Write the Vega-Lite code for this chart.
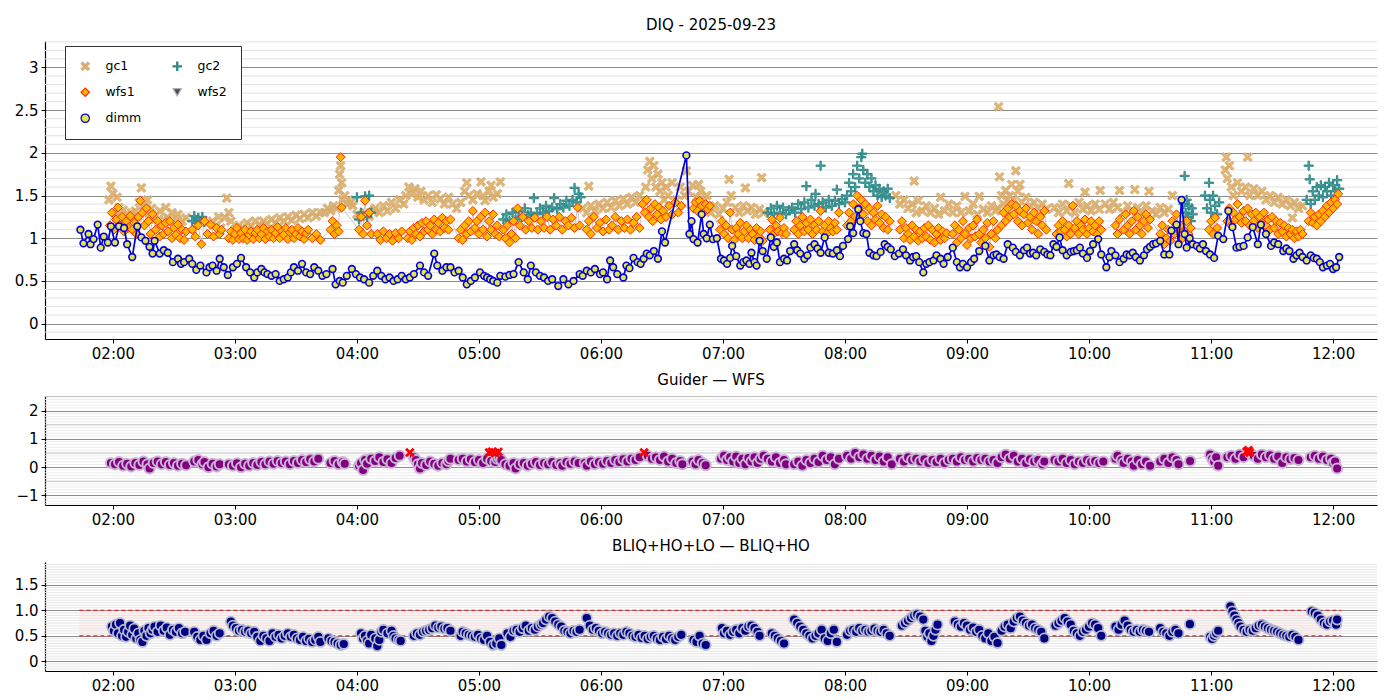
{
"$schema":"https://vega.github.io/schema/vega-lite/v6.json",
"background":"white",
"padding":{"left":9,"top":18,"right":10,"bottom":5},
"spacing":12,
"config":{
"font":"DejaVu Sans",
"view":{"stroke":null},
"title":{"font":"DejaVu Sans","fontSize":15,"fontWeight":"normal","color":"#000","offset":8,"anchor":"middle"},
"axis":{"labelFont":"DejaVu Sans","labelFontSize":15,"labelColor":"#000","domainColor":"#000","domainWidth":1.2,"tickColor":"#000","tickSize":4,"tickWidth":1,"labelPadding":3,"gridColor":"#8c8c8c","gridWidth":1},
"axisX":{"grid":false},
"axisY":{"grid":true,"minExtent":36,"maxExtent":36},
"legend":{"orient":"none","legendX":20,"legendY":5,"columns":2,"labelFont":"DejaVu Sans","labelFontSize":12.5,"labelColor":"#000","symbolSize":70,"symbolStrokeWidth":1.2,"padding":14,"rowPadding":12,"columnPadding":28,"labelOffset":14,"strokeColor":"#333333","fillColor":"#ffffff","cornerRadius":0}
},
"resolve":{"scale":{"shape":"independent","fill":"independent","stroke":"independent"}},
"datasets":{
"gtop":[{"v":-0.1},{"v":0.1},{"v":0.2},{"v":0.3},{"v":0.4},{"v":0.6},{"v":0.7},{"v":0.8},{"v":0.9},{"v":1.1},{"v":1.2},{"v":1.3},{"v":1.4},{"v":1.6},{"v":1.7},{"v":1.8},{"v":1.9},{"v":2.1},{"v":2.2},{"v":2.3},{"v":2.4},{"v":2.6},{"v":2.7},{"v":2.8},{"v":2.9},{"v":3.1},{"v":3.2},{"v":3.3}],
"gmid":[{"v":-1.3},{"v":-1.2},{"v":-1.1},{"v":-0.9},{"v":-0.8},{"v":-0.7},{"v":-0.6},{"v":-0.4},{"v":-0.3},{"v":-0.2},{"v":-0.1},{"v":0.1},{"v":0.2},{"v":0.3},{"v":0.4},{"v":0.6},{"v":0.7},{"v":0.8},{"v":0.9},{"v":1.1},{"v":1.2},{"v":1.3},{"v":1.4},{"v":1.6},{"v":1.7},{"v":1.8},{"v":1.9},{"v":2.1},{"v":2.2},{"v":2.3},{"v":2.4}],
"gmidh":[{"v":-0.5},{"v":0.5},{"v":1.5},{"v":2.5}],
"gbot":[{"v":-0.15},{"v":-0.1},{"v":-0.05},{"v":0.05},{"v":0.1},{"v":0.15},{"v":0.2},{"v":0.25},{"v":0.3},{"v":0.35},{"v":0.4},{"v":0.45},{"v":0.55},{"v":0.6},{"v":0.65},{"v":0.7},{"v":0.75},{"v":0.8},{"v":0.85},{"v":0.9},{"v":0.95},{"v":1.05},{"v":1.1},{"v":1.15},{"v":1.2},{"v":1.25},{"v":1.3},{"v":1.35},{"v":1.4},{"v":1.45},{"v":1.55},{"v":1.6},{"v":1.65},{"v":1.7},{"v":1.75},{"v":1.8},{"v":1.85},{"v":1.9}],
"thr":[{"t1":103.5,"t2":724,"v":0.5},{"t1":103.5,"t2":724,"v":1.0}],
"band":[{"t1":103.5,"t2":724,"v":0.5,"v2":1.0}],
"dimm":[{"t":104,"v":1.1},{"t":105.5,"v":0.94},{"t":108,"v":1.05},{"t":109,"v":0.93},{"t":110.5,"v":0.99},{"t":112.5,"v":1.16},{"t":114,"v":0.89},{"t":115.5,"v":1.02},{"t":117.5,"v":0.95},{"t":119,"v":1.14},{"t":121,"v":0.95},{"t":123,"v":1.14},{"t":125.5,"v":1.12},{"t":127,"v":0.93},{"t":129.5,"v":0.78},{"t":132,"v":1.14},{"t":134,"v":1.01},{"t":136,"v":0.97},{"t":138,"v":0.9},{"t":139.5,"v":0.82},{"t":140.5,"v":0.97},{"t":143,"v":0.82},{"t":145,"v":0.86},{"t":147,"v":0.83},{"t":149.5,"v":0.72},{"t":152,"v":0.76},{"t":153.5,"v":0.7},{"t":155,"v":0.72},{"t":157.5,"v":0.76},{"t":159,"v":0.7},{"t":161,"v":0.63},{"t":163,"v":0.68},{"t":166,"v":0.6},{"t":167.5,"v":0.66},{"t":169,"v":0.68},{"t":171,"v":0.62},{"t":172.5,"v":0.76},{"t":174.5,"v":0.66},{"t":176.5,"v":0.57},{"t":179,"v":0.66},{"t":181,"v":0.7},{"t":183,"v":0.77},{"t":185.5,"v":0.66},{"t":187.5,"v":0.6},{"t":189.5,"v":0.54},{"t":191,"v":0.6},{"t":193,"v":0.64},{"t":194.5,"v":0.6},{"t":196,"v":0.58},{"t":198,"v":0.56},{"t":200,"v":0.58},{"t":202,"v":0.5},{"t":204,"v":0.52},{"t":206,"v":0.54},{"t":207.5,"v":0.6},{"t":209,"v":0.66},{"t":211,"v":0.62},{"t":213,"v":0.7},{"t":215,"v":0.6},{"t":217,"v":0.58},{"t":219,"v":0.66},{"t":221,"v":0.62},{"t":223,"v":0.56},{"t":225,"v":0.58},{"t":228,"v":0.64},{"t":229.5,"v":0.46},{"t":231.5,"v":0.5},{"t":233,"v":0.48},{"t":235,"v":0.56},{"t":237.5,"v":0.64},{"t":239.5,"v":0.58},{"t":241.5,"v":0.54},{"t":243.5,"v":0.52},{"t":246,"v":0.48},{"t":248,"v":0.56},{"t":250,"v":0.62},{"t":252,"v":0.56},{"t":254,"v":0.52},{"t":256,"v":0.54},{"t":258,"v":0.5},{"t":260,"v":0.52},{"t":262,"v":0.56},{"t":264,"v":0.52},{"t":266,"v":0.54},{"t":268,"v":0.58},{"t":271,"v":0.68},{"t":273,"v":0.6},{"t":275,"v":0.56},{"t":278,"v":0.82},{"t":279.5,"v":0.68},{"t":282,"v":0.62},{"t":284,"v":0.66},{"t":286,"v":0.66},{"t":288,"v":0.6},{"t":290,"v":0.62},{"t":292,"v":0.54},{"t":294,"v":0.46},{"t":296,"v":0.5},{"t":298,"v":0.54},{"t":300.5,"v":0.6},{"t":302.5,"v":0.56},{"t":304,"v":0.54},{"t":305.5,"v":0.52},{"t":307,"v":0.5},{"t":309,"v":0.48},{"t":310.5,"v":0.56},{"t":313,"v":0.55},{"t":315,"v":0.57},{"t":317,"v":0.58},{"t":319.5,"v":0.72},{"t":322,"v":0.6},{"t":324,"v":0.52},{"t":325.5,"v":0.68},{"t":328,"v":0.6},{"t":330,"v":0.56},{"t":332,"v":0.54},{"t":334,"v":0.5},{"t":336,"v":0.52},{"t":339,"v":0.44},{"t":341.5,"v":0.52},{"t":344,"v":0.46},{"t":346.5,"v":0.5},{"t":349.5,"v":0.58},{"t":351,"v":0.56},{"t":353,"v":0.62},{"t":355,"v":0.6},{"t":357,"v":0.64},{"t":359.5,"v":0.58},{"t":361,"v":0.6},{"t":363,"v":0.52},{"t":364.5,"v":0.74},{"t":366,"v":0.66},{"t":368,"v":0.58},{"t":371,"v":0.54},{"t":372.5,"v":0.68},{"t":374,"v":0.65},{"t":376,"v":0.77},{"t":378,"v":0.72},{"t":379.5,"v":0.7},{"t":381,"v":0.76},{"t":382.5,"v":0.82},{"t":384,"v":0.8},{"t":386,"v":0.85},{"t":388,"v":0.76},{"t":390,"v":1.08},{"t":391.5,"v":0.95},{"t":402,"v":1.97},{"t":403.5,"v":1.05},{"t":404.5,"v":1.2},{"t":405.5,"v":0.99},{"t":407.5,"v":0.95},{"t":409.5,"v":1.28},{"t":410.5,"v":1.05},{"t":412,"v":1.0},{"t":413.5,"v":1.16},{"t":415,"v":0.99},{"t":417,"v":1.0},{"t":419,"v":0.76},{"t":420.5,"v":0.74},{"t":422,"v":0.7},{"t":423.5,"v":0.77},{"t":424.5,"v":0.91},{"t":426.5,"v":0.79},{"t":428.5,"v":0.68},{"t":430,"v":0.72},{"t":431.5,"v":0.74},{"t":433,"v":0.7},{"t":434,"v":0.83},{"t":435.5,"v":0.72},{"t":436.5,"v":0.68},{"t":438,"v":0.97},{"t":439.5,"v":0.85},{"t":441.5,"v":0.76},{"t":443.5,"v":1.01},{"t":445,"v":0.9},{"t":446.5,"v":0.95},{"t":448,"v":0.72},{"t":450,"v":0.76},{"t":451.5,"v":0.74},{"t":453,"v":0.85},{"t":455,"v":0.93},{"t":456.5,"v":0.86},{"t":458,"v":0.82},{"t":460,"v":0.76},{"t":461.5,"v":0.8},{"t":463,"v":0.89},{"t":465,"v":0.93},{"t":466.5,"v":0.88},{"t":468,"v":0.83},{"t":470,"v":1.01},{"t":472,"v":0.83},{"t":474,"v":0.82},{"t":476,"v":0.86},{"t":477.5,"v":0.79},{"t":479,"v":0.91},{"t":481.5,"v":0.99},{"t":482.5,"v":1.14},{"t":484,"v":1.06},{"t":486.5,"v":1.34},{"t":487.5,"v":1.2},{"t":489,"v":1.06},{"t":490.5,"v":1.05},{"t":492,"v":0.83},{"t":494,"v":0.8},{"t":495.5,"v":0.79},{"t":497.5,"v":0.84},{"t":499.5,"v":0.93},{"t":501,"v":0.9},{"t":502.5,"v":0.87},{"t":504.5,"v":0.79},{"t":506.5,"v":0.82},{"t":508.5,"v":0.87},{"t":510,"v":0.8},{"t":512,"v":0.74},{"t":513.5,"v":0.78},{"t":515,"v":0.79},{"t":516.5,"v":0.72},{"t":518.5,"v":0.6},{"t":520,"v":0.7},{"t":521.5,"v":0.72},{"t":523.5,"v":0.74},{"t":525,"v":0.8},{"t":527,"v":0.76},{"t":528.5,"v":0.7},{"t":530.5,"v":0.78},{"t":533,"v":0.89},{"t":535,"v":0.72},{"t":536.5,"v":0.66},{"t":538,"v":0.7},{"t":540,"v":0.66},{"t":542,"v":0.72},{"t":543.5,"v":0.76},{"t":546,"v":0.85},{"t":549,"v":0.91},{"t":551,"v":0.74},{"t":553,"v":0.8},{"t":554.5,"v":0.81},{"t":556,"v":0.78},{"t":558,"v":0.76},{"t":560,"v":0.93},{"t":562.5,"v":0.89},{"t":564,"v":0.84},{"t":566,"v":0.8},{"t":568,"v":0.86},{"t":569.5,"v":0.89},{"t":571,"v":0.82},{"t":572.5,"v":0.83},{"t":574,"v":0.8},{"t":576,"v":0.87},{"t":578,"v":0.84},{"t":579.5,"v":0.81},{"t":581,"v":0.8},{"t":582.5,"v":0.93},{"t":584,"v":0.9},{"t":585.5,"v":1.01},{"t":587,"v":0.86},{"t":589,"v":0.8},{"t":591,"v":0.84},{"t":592.5,"v":0.85},{"t":594,"v":0.86},{"t":595.5,"v":0.89},{"t":597,"v":0.82},{"t":599,"v":0.77},{"t":600.5,"v":0.85},{"t":602,"v":0.93},{"t":604.5,"v":0.99},{"t":606,"v":0.81},{"t":608.5,"v":0.66},{"t":610,"v":0.78},{"t":611,"v":0.85},{"t":613,"v":0.8},{"t":615,"v":0.72},{"t":617,"v":0.76},{"t":618.5,"v":0.81},{"t":620,"v":0.8},{"t":621.5,"v":0.83},{"t":623,"v":0.78},{"t":625,"v":0.74},{"t":627,"v":0.8},{"t":628.5,"v":0.87},{"t":630,"v":0.9},{"t":631.5,"v":0.93},{"t":633,"v":0.94},{"t":635,"v":0.97},{"t":637,"v":0.81},{"t":639.5,"v":0.81},{"t":640.5,"v":1.09},{"t":643,"v":1.16},{"t":644,"v":0.93},{"t":645.5,"v":1.45},{"t":647,"v":1.05},{"t":648,"v":0.89},{"t":649.5,"v":1.0},{"t":651,"v":0.93},{"t":653,"v":0.91},{"t":654.5,"v":0.88},{"t":656,"v":0.93},{"t":657.5,"v":0.85},{"t":659.5,"v":0.81},{"t":661.5,"v":0.77},{"t":663.5,"v":1.03},{"t":666,"v":0.99},{"t":668.5,"v":1.32},{"t":670.5,"v":1.13},{"t":672.5,"v":0.89},{"t":674,"v":0.9},{"t":676,"v":0.91},{"t":678,"v":1.01},{"t":680.5,"v":1.13},{"t":683,"v":0.93},{"t":684.5,"v":1.16},{"t":687,"v":1.05},{"t":689.5,"v":0.91},{"t":691,"v":0.95},{"t":693,"v":0.93},{"t":695.5,"v":0.85},{"t":697,"v":0.88},{"t":698.5,"v":0.85},{"t":700.5,"v":0.76},{"t":702,"v":0.8},{"t":703.5,"v":0.83},{"t":705,"v":0.78},{"t":707,"v":0.74},{"t":709,"v":0.8},{"t":710.5,"v":0.77},{"t":712,"v":0.76},{"t":713.5,"v":0.72},{"t":715,"v":0.66},{"t":717,"v":0.68},{"t":718.5,"v":0.7},{"t":720,"v":0.64},{"t":721.5,"v":0.66},{"t":723,"v":0.78}],
"gc1":[{"t":118,"v":1.45},{"t":119,"v":1.61},{"t":120,"v":1.52},{"t":121,"v":1.3},{"t":122,"v":1.48},{"t":123,"v":1.36},{"t":124,"v":1.25},{"t":125,"v":1.33},{"t":126,"v":1.22},{"t":127,"v":1.28},{"t":128,"v":1.2},{"t":129,"v":1.3},{"t":130,"v":1.24},{"t":131,"v":1.32},{"t":132,"v":1.25},{"t":133,"v":1.42},{"t":134,"v":1.59},{"t":135,"v":1.38},{"t":136,"v":1.3},{"t":137,"v":1.45},{"t":138,"v":1.22},{"t":139,"v":1.35},{"t":141,"v":1.26},{"t":143,"v":1.32},{"t":145,"v":1.22},{"t":146,"v":1.36},{"t":147,"v":1.24},{"t":149,"v":1.3},{"t":151,"v":1.22},{"t":152,"v":1.28},{"t":154,"v":1.2},{"t":156,"v":1.24},{"t":169,"v":1.2},{"t":171,"v":1.15},{"t":172,"v":1.25},{"t":173,"v":1.12},{"t":175,"v":1.24},{"t":176,"v":1.47},{"t":177,"v":1.3},{"t":178,"v":1.2},{"t":180,"v":1.1},{"t":182,"v":1.15},{"t":184,"v":1.12},{"t":186,"v":1.18},{"t":188,"v":1.14},{"t":190,"v":1.2},{"t":192,"v":1.16},{"t":194,"v":1.2},{"t":196,"v":1.17},{"t":198,"v":1.22},{"t":200,"v":1.18},{"t":202,"v":1.24},{"t":204,"v":1.2},{"t":206,"v":1.25},{"t":208,"v":1.21},{"t":210,"v":1.27},{"t":212,"v":1.23},{"t":214,"v":1.28},{"t":216,"v":1.24},{"t":218,"v":1.3},{"t":220,"v":1.26},{"t":222,"v":1.3},{"t":224,"v":1.3},{"t":225.5,"v":1.35},{"t":227,"v":1.32},{"t":228.5,"v":1.38},{"t":230,"v":1.35},{"t":231,"v":1.56},{"t":231.5,"v":1.75},{"t":232,"v":1.85},{"t":232.5,"v":1.65},{"t":233,"v":1.45},{"t":234,"v":1.5},{"t":235,"v":1.4},{"t":236,"v":1.45},{"t":237,"v":1.42},{"t":238,"v":1.38},{"t":240,"v":1.28},{"t":242,"v":1.25},{"t":244,"v":1.3},{"t":246,"v":1.26},{"t":248,"v":1.32},{"t":249,"v":1.35},{"t":251,"v":1.3},{"t":253,"v":1.38},{"t":255,"v":1.32},{"t":257,"v":1.42},{"t":259,"v":1.35},{"t":261,"v":1.45},{"t":263,"v":1.4},{"t":264,"v":1.5},{"t":265.5,"v":1.6},{"t":267,"v":1.52},{"t":268.5,"v":1.58},{"t":270,"v":1.48},{"t":271.5,"v":1.55},{"t":273,"v":1.45},{"t":275,"v":1.5},{"t":277,"v":1.42},{"t":279,"v":1.51},{"t":281,"v":1.46},{"t":283,"v":1.4},{"t":285,"v":1.48},{"t":287,"v":1.4},{"t":289,"v":1.35},{"t":291,"v":1.42},{"t":293,"v":1.55},{"t":294,"v":1.65},{"t":295,"v":1.5},{"t":297,"v":1.45},{"t":299,"v":1.52},{"t":301,"v":1.66},{"t":302,"v":1.5},{"t":303,"v":1.44},{"t":305,"v":1.55},{"t":306,"v":1.62},{"t":307,"v":1.48},{"t":309,"v":1.52},{"t":310.5,"v":1.66},{"t":351,"v":1.35},{"t":353,"v":1.3},{"t":354,"v":1.61},{"t":355,"v":1.38},{"t":357,"v":1.32},{"t":359,"v":1.4},{"t":361,"v":1.35},{"t":363,"v":1.42},{"t":365,"v":1.36},{"t":367,"v":1.44},{"t":369,"v":1.38},{"t":371,"v":1.46},{"t":373,"v":1.4},{"t":375,"v":1.48},{"t":377,"v":1.42},{"t":379,"v":1.5},{"t":381,"v":1.45},{"t":382,"v":1.6},{"t":383,"v":1.8},{"t":384,"v":1.9},{"t":385,"v":1.7},{"t":386,"v":1.85},{"t":387,"v":1.6},{"t":388,"v":1.75},{"t":389,"v":1.55},{"t":390,"v":1.65},{"t":391,"v":1.45},{"t":392,"v":1.6},{"t":393,"v":1.5},{"t":395,"v":1.65},{"t":397,"v":1.45},{"t":399,"v":1.6},{"t":401,"v":1.5},{"t":402,"v":1.79},{"t":403,"v":1.55},{"t":405,"v":1.62},{"t":407,"v":1.48},{"t":408,"v":1.63},{"t":409,"v":1.55},{"t":411,"v":1.45},{"t":412,"v":1.5},{"t":414,"v":1.3},{"t":416,"v":1.38},{"t":418,"v":1.28},{"t":420,"v":1.35},{"t":422,"v":1.42},{"t":423,"v":1.69},{"t":424,"v":1.5},{"t":426,"v":1.36},{"t":428,"v":1.3},{"t":430,"v":1.38},{"t":431,"v":1.59},{"t":432,"v":1.32},{"t":434,"v":1.36},{"t":436,"v":1.28},{"t":438,"v":1.34},{"t":439,"v":1.71},{"t":440,"v":1.3},{"t":505,"v":1.5},{"t":507,"v":1.4},{"t":509,"v":1.45},{"t":511,"v":1.35},{"t":513,"v":1.4},{"t":514,"v":1.67},{"t":515,"v":1.3},{"t":516,"v":1.44},{"t":518,"v":1.32},{"t":520,"v":1.38},{"t":522,"v":1.3},{"t":524,"v":1.35},{"t":526,"v":1.28},{"t":527,"v":1.48},{"t":529,"v":1.32},{"t":531,"v":1.4},{"t":533,"v":1.3},{"t":535,"v":1.38},{"t":537,"v":1.3},{"t":539,"v":1.49},{"t":541,"v":1.32},{"t":543,"v":1.4},{"t":545,"v":1.28},{"t":546,"v":1.49},{"t":548,"v":1.34},{"t":550,"v":1.3},{"t":552,"v":1.38},{"t":554,"v":1.32},{"t":555,"v":1.35},{"t":555.5,"v":2.54},{"t":556,"v":1.72},{"t":557,"v":1.5},{"t":558,"v":1.4},{"t":559,"v":1.56},{"t":560,"v":1.45},{"t":561,"v":1.5},{"t":562,"v":1.63},{"t":563,"v":1.45},{"t":564,"v":1.79},{"t":565,"v":1.55},{"t":566,"v":1.63},{"t":567,"v":1.42},{"t":569,"v":1.48},{"t":571,"v":1.38},{"t":573,"v":1.42},{"t":575,"v":1.35},{"t":577,"v":1.4},{"t":579,"v":1.34},{"t":583,"v":1.36},{"t":585,"v":1.3},{"t":587,"v":1.4},{"t":589,"v":1.32},{"t":590,"v":1.64},{"t":591,"v":1.38},{"t":593,"v":1.3},{"t":595,"v":1.42},{"t":597,"v":1.34},{"t":598,"v":1.54},{"t":599,"v":1.38},{"t":601,"v":1.32},{"t":603,"v":1.4},{"t":605,"v":1.34},{"t":605.5,"v":1.56},{"t":608,"v":1.4},{"t":610,"v":1.34},{"t":612,"v":1.42},{"t":614,"v":1.36},{"t":615,"v":1.56},{"t":617,"v":1.3},{"t":619,"v":1.38},{"t":621,"v":1.32},{"t":622.5,"v":1.57},{"t":624,"v":1.36},{"t":626,"v":1.3},{"t":628,"v":1.38},{"t":629.5,"v":1.55},{"t":631,"v":1.32},{"t":633,"v":1.28},{"t":635,"v":1.36},{"t":637,"v":1.3},{"t":639,"v":1.34},{"t":641,"v":1.5},{"t":667,"v":1.8},{"t":667.5,"v":1.95},{"t":668,"v":1.7},{"t":669,"v":1.85},{"t":670,"v":1.6},{"t":671,"v":1.5},{"t":673,"v":1.65},{"t":675,"v":1.55},{"t":677,"v":1.6},{"t":678,"v":1.95},{"t":679,"v":1.5},{"t":681,"v":1.58},{"t":683,"v":1.5},{"t":685,"v":1.55},{"t":687,"v":1.45},{"t":689,"v":1.5},{"t":691,"v":1.42},{"t":693,"v":1.48},{"t":695,"v":1.4},{"t":697,"v":1.45},{"t":699,"v":1.38},{"t":700,"v":1.24},{"t":701,"v":1.42},{"t":703,"v":1.35},{"t":705,"v":1.38}],
"gc2":[{"t":159,"v":1.2},{"t":160,"v":1.26},{"t":161,"v":1.18},{"t":162,"v":1.24},{"t":163,"v":1.2},{"t":164,"v":1.25},{"t":165,"v":1.19},{"t":240,"v":1.48},{"t":241,"v":1.22},{"t":242,"v":1.3},{"t":244,"v":1.49},{"t":245,"v":1.25},{"t":246,"v":1.5},{"t":247,"v":1.3},{"t":312,"v":1.22},{"t":313.5,"v":1.28},{"t":315,"v":1.2},{"t":316.5,"v":1.3},{"t":318,"v":1.22},{"t":319.5,"v":1.32},{"t":321,"v":1.25},{"t":322.5,"v":1.35},{"t":324,"v":1.27},{"t":325.5,"v":1.3},{"t":327,"v":1.47},{"t":328.5,"v":1.28},{"t":330,"v":1.35},{"t":331.5,"v":1.3},{"t":333,"v":1.38},{"t":334.5,"v":1.32},{"t":336,"v":1.36},{"t":337,"v":1.47},{"t":338.5,"v":1.34},{"t":340,"v":1.4},{"t":341.5,"v":1.36},{"t":343,"v":1.44},{"t":344.5,"v":1.38},{"t":346,"v":1.45},{"t":347,"v":1.59},{"t":348,"v":1.42},{"t":349,"v":1.52},{"t":350,"v":1.48},{"t":442,"v":1.3},{"t":443.5,"v":1.35},{"t":445,"v":1.28},{"t":446.5,"v":1.38},{"t":448,"v":1.3},{"t":449.5,"v":1.36},{"t":451,"v":1.28},{"t":452.5,"v":1.33},{"t":454,"v":1.36},{"t":455.5,"v":1.3},{"t":457,"v":1.4},{"t":458.5,"v":1.34},{"t":460,"v":1.42},{"t":461,"v":1.61},{"t":462,"v":1.36},{"t":463.5,"v":1.45},{"t":465,"v":1.38},{"t":465.5,"v":1.52},{"t":467,"v":1.4},{"t":468,"v":1.85},{"t":469,"v":1.42},{"t":470.5,"v":1.36},{"t":472,"v":1.45},{"t":473.5,"v":1.38},{"t":475,"v":1.44},{"t":476,"v":1.57},{"t":477,"v":1.4},{"t":478.5,"v":1.46},{"t":480,"v":1.42},{"t":481,"v":1.5},{"t":482,"v":1.65},{"t":483,"v":1.55},{"t":484,"v":1.75},{"t":485,"v":1.6},{"t":486,"v":1.85},{"t":487,"v":1.7},{"t":488,"v":1.95},{"t":488.5,"v":1.99},{"t":489,"v":1.8},{"t":490,"v":1.65},{"t":491,"v":1.75},{"t":492,"v":1.6},{"t":493,"v":1.7},{"t":494,"v":1.55},{"t":495,"v":1.62},{"t":496,"v":1.5},{"t":497,"v":1.58},{"t":498,"v":1.48},{"t":499,"v":1.55},{"t":500,"v":1.5},{"t":501,"v":1.58},{"t":502,"v":1.47},{"t":646.5,"v":1.4},{"t":647,"v":1.73},{"t":647.5,"v":1.3},{"t":648,"v":1.45},{"t":648.5,"v":1.25},{"t":649,"v":1.38},{"t":650,"v":1.2},{"t":650.5,"v":1.35},{"t":651,"v":1.28},{"t":657,"v":1.5},{"t":658,"v":1.35},{"t":659,"v":1.65},{"t":659.5,"v":1.45},{"t":660,"v":1.3},{"t":661,"v":1.5},{"t":662,"v":1.38},{"t":663,"v":1.28},{"t":664,"v":1.42},{"t":707,"v":1.45},{"t":708,"v":1.85},{"t":708.5,"v":1.69},{"t":709,"v":1.4},{"t":710,"v":1.55},{"t":711,"v":1.45},{"t":712,"v":1.6},{"t":713,"v":1.5},{"t":714,"v":1.62},{"t":715,"v":1.48},{"t":716,"v":1.6},{"t":717,"v":1.55},{"t":718,"v":1.65},{"t":719,"v":1.5},{"t":720,"v":1.62},{"t":721,"v":1.55},{"t":722,"v":1.68},{"t":723,"v":1.58}],
"wfs1":[{"t":118.5,"v":1.15},{"t":119.5,"v":1.3},{"t":120.5,"v":1.1},{"t":121.5,"v":1.22},{"t":122.5,"v":1.36},{"t":123.5,"v":1.15},{"t":124.5,"v":1.25},{"t":125.5,"v":1.08},{"t":126.5,"v":1.2},{"t":127.5,"v":1.12},{"t":128.5,"v":1.26},{"t":129.5,"v":1.1},{"t":130.5,"v":1.18},{"t":131.5,"v":1.05},{"t":132.5,"v":1.25},{"t":133.5,"v":1.44},{"t":134.5,"v":1.3},{"t":135.5,"v":1.15},{"t":136.5,"v":1.35},{"t":137.5,"v":1.2},{"t":138.5,"v":1.05},{"t":139.5,"v":1.28},{"t":141,"v":1.1},{"t":142,"v":1.2},{"t":143,"v":1.02},{"t":144,"v":1.15},{"t":145,"v":1.05},{"t":146,"v":1.18},{"t":147,"v":1.08},{"t":148,"v":1.2},{"t":149,"v":1.0},{"t":150,"v":1.12},{"t":151,"v":1.04},{"t":152,"v":1.16},{"t":153,"v":1.0},{"t":154,"v":1.1},{"t":155,"v":0.98},{"t":156,"v":1.08},{"t":159,"v":1.1},{"t":160.5,"v":1.02},{"t":162,"v":1.15},{"t":163.5,"v":0.93},{"t":165,"v":1.2},{"t":166.5,"v":1.05},{"t":168,"v":1.16},{"t":169.5,"v":1.02},{"t":171,"v":1.12},{"t":172.5,"v":1.05},{"t":173.4,"v":1.1},{"t":177,"v":1.0},{"t":178,"v":1.08},{"t":179,"v":0.98},{"t":180,"v":1.05},{"t":181,"v":1.12},{"t":182,"v":0.99},{"t":183,"v":1.06},{"t":184,"v":1.0},{"t":185,"v":1.1},{"t":186,"v":0.98},{"t":187,"v":1.04},{"t":188,"v":1.08},{"t":189,"v":0.99},{"t":190,"v":1.06},{"t":191,"v":1.1},{"t":192,"v":1.0},{"t":193,"v":1.05},{"t":194,"v":1.12},{"t":195,"v":0.99},{"t":196,"v":1.08},{"t":197,"v":1.02},{"t":198,"v":1.1},{"t":199,"v":1.0},{"t":200,"v":1.06},{"t":201,"v":1.13},{"t":202,"v":1.0},{"t":203,"v":1.08},{"t":204,"v":1.04},{"t":205,"v":1.12},{"t":206,"v":0.99},{"t":207,"v":1.07},{"t":208,"v":1.1},{"t":209,"v":1.0},{"t":210,"v":1.05},{"t":211,"v":1.12},{"t":212,"v":1.02},{"t":213,"v":1.08},{"t":214,"v":0.99},{"t":215,"v":1.06},{"t":216,"v":1.1},{"t":218,"v":1.0},{"t":220,"v":1.05},{"t":222,"v":0.98},{"t":227,"v":1.1},{"t":228,"v":1.2},{"t":229,"v":1.05},{"t":230,"v":1.15},{"t":231,"v":1.08},{"t":232,"v":1.95},{"t":232.5,"v":1.36},{"t":241,"v":1.1},{"t":242,"v":1.25},{"t":243,"v":1.05},{"t":244,"v":1.44},{"t":245,"v":1.15},{"t":246,"v":1.3},{"t":247,"v":1.05},{"t":250,"v":1.05},{"t":251.5,"v":0.98},{"t":253,"v":1.08},{"t":254.5,"v":1.0},{"t":256,"v":1.05},{"t":257.5,"v":0.97},{"t":259,"v":1.06},{"t":260.5,"v":1.0},{"t":262,"v":1.08},{"t":265,"v":1.0},{"t":266,"v":1.08},{"t":267,"v":0.98},{"t":268,"v":1.12},{"t":269,"v":1.05},{"t":270,"v":1.15},{"t":271,"v":1.02},{"t":272,"v":1.18},{"t":273,"v":1.08},{"t":274,"v":1.2},{"t":275,"v":1.1},{"t":276,"v":1.15},{"t":277,"v":1.05},{"t":278,"v":1.22},{"t":279,"v":1.1},{"t":280,"v":1.18},{"t":281,"v":1.08},{"t":282,"v":1.24},{"t":283,"v":1.12},{"t":284,"v":1.2},{"t":285,"v":1.1},{"t":286,"v":1.22},{"t":290,"v":1.0},{"t":291,"v":1.1},{"t":292,"v":0.98},{"t":293,"v":1.15},{"t":294,"v":1.05},{"t":295,"v":1.2},{"t":296,"v":1.08},{"t":297,"v":1.32},{"t":298,"v":1.12},{"t":299,"v":1.2},{"t":300,"v":1.05},{"t":301,"v":1.25},{"t":302,"v":1.1},{"t":303,"v":1.3},{"t":304,"v":1.02},{"t":305,"v":1.2},{"t":306,"v":1.1},{"t":307,"v":1.28},{"t":308,"v":1.05},{"t":309,"v":1.15},{"t":310,"v":1.02},{"t":312,"v":1.1},{"t":313,"v":1.0},{"t":314,"v":1.15},{"t":315,"v":0.95},{"t":316,"v":1.05},{"t":317,"v":1.2},{"t":318,"v":1.0},{"t":319,"v":1.35},{"t":320,"v":1.15},{"t":321.5,"v":1.25},{"t":323,"v":1.1},{"t":324.5,"v":1.2},{"t":326,"v":1.12},{"t":327.5,"v":1.24},{"t":329,"v":1.1},{"t":330.5,"v":1.2},{"t":332,"v":1.12},{"t":333.5,"v":1.25},{"t":335,"v":1.1},{"t":336.5,"v":1.22},{"t":338,"v":1.15},{"t":339.5,"v":1.25},{"t":341,"v":1.1},{"t":342.5,"v":1.2},{"t":344,"v":1.15},{"t":345.5,"v":1.24},{"t":347,"v":1.12},{"t":348.5,"v":1.36},{"t":349.5,"v":1.15},{"t":353,"v":1.1},{"t":354,"v":1.2},{"t":355,"v":1.05},{"t":356.5,"v":1.25},{"t":358,"v":1.12},{"t":359.5,"v":1.18},{"t":361,"v":1.08},{"t":362.5,"v":1.22},{"t":364,"v":1.1},{"t":365.5,"v":1.15},{"t":367,"v":1.25},{"t":368.5,"v":1.1},{"t":370,"v":1.2},{"t":371.5,"v":1.12},{"t":373,"v":1.22},{"t":374.5,"v":1.1},{"t":376,"v":1.18},{"t":377.5,"v":1.25},{"t":379,"v":1.12},{"t":380.5,"v":1.4},{"t":381.5,"v":1.3},{"t":382.5,"v":1.45},{"t":383.5,"v":1.25},{"t":384.5,"v":1.35},{"t":385.5,"v":1.2},{"t":386.5,"v":1.4},{"t":387.5,"v":1.28},{"t":388.5,"v":1.36},{"t":389.5,"v":1.22},{"t":390.5,"v":1.32},{"t":392,"v":1.25},{"t":393.5,"v":1.38},{"t":395,"v":1.28},{"t":396.5,"v":1.42},{"t":398,"v":1.3},{"t":399.5,"v":1.38},{"t":405.5,"v":1.35},{"t":406.5,"v":1.42},{"t":407.5,"v":1.32},{"t":408.5,"v":1.44},{"t":409.5,"v":1.38},{"t":410.5,"v":1.3},{"t":411.5,"v":1.4},{"t":412.5,"v":1.34},{"t":413.5,"v":1.38},{"t":418.5,"v":1.1},{"t":419.5,"v":1.2},{"t":420.5,"v":1.05},{"t":421.5,"v":1.15},{"t":422.5,"v":1.0},{"t":423.5,"v":1.3},{"t":424.5,"v":1.1},{"t":425.5,"v":0.98},{"t":426.5,"v":1.12},{"t":427.5,"v":1.05},{"t":428.5,"v":1.18},{"t":429.5,"v":1.0},{"t":430.5,"v":1.08},{"t":431.5,"v":1.15},{"t":432.5,"v":1.0},{"t":433.5,"v":1.1},{"t":434.5,"v":1.05},{"t":435.5,"v":0.98},{"t":436.5,"v":1.12},{"t":437.5,"v":1.02},{"t":438.5,"v":1.08},{"t":439.5,"v":0.97},{"t":443,"v":1.1},{"t":444,"v":1.22},{"t":445,"v":1.05},{"t":446,"v":1.15},{"t":447,"v":1.08},{"t":448,"v":1.24},{"t":449,"v":1.06},{"t":450,"v":1.12},{"t":451,"v":1.05},{"t":455,"v":1.1},{"t":456,"v":1.2},{"t":457,"v":1.05},{"t":458,"v":1.15},{"t":459,"v":1.25},{"t":460,"v":1.08},{"t":461,"v":1.18},{"t":462,"v":1.1},{"t":463,"v":1.22},{"t":464,"v":1.05},{"t":465,"v":1.15},{"t":466,"v":1.1},{"t":467,"v":1.2},{"t":468,"v":1.32},{"t":469,"v":1.08},{"t":470,"v":1.15},{"t":471,"v":1.05},{"t":472,"v":1.2},{"t":473,"v":1.12},{"t":474,"v":1.08},{"t":475,"v":1.18},{"t":476,"v":1.1},{"t":477,"v":1.3},{"t":481,"v":1.15},{"t":482,"v":1.3},{"t":483,"v":1.2},{"t":484,"v":1.4},{"t":485,"v":1.25},{"t":486,"v":1.5},{"t":487,"v":1.35},{"t":488,"v":1.45},{"t":489,"v":1.28},{"t":490,"v":1.4},{"t":491,"v":1.2},{"t":492,"v":1.35},{"t":493,"v":1.15},{"t":494,"v":1.3},{"t":495,"v":1.22},{"t":496,"v":1.38},{"t":497,"v":1.18},{"t":498,"v":1.28},{"t":499,"v":1.12},{"t":500,"v":1.25},{"t":501,"v":1.1},{"t":502,"v":1.2},{"t":507,"v":1.1},{"t":508,"v":1.2},{"t":509,"v":1.0},{"t":510,"v":1.12},{"t":511,"v":1.05},{"t":512,"v":0.98},{"t":513,"v":1.15},{"t":514,"v":1.02},{"t":515,"v":1.1},{"t":516,"v":0.97},{"t":517,"v":1.08},{"t":518,"v":1.0},{"t":519,"v":1.12},{"t":520,"v":1.02},{"t":521,"v":1.15},{"t":522,"v":0.98},{"t":523,"v":1.1},{"t":524,"v":0.95},{"t":525,"v":1.05},{"t":526,"v":1.12},{"t":527,"v":0.98},{"t":528,"v":1.08},{"t":529,"v":1.0},{"t":530,"v":1.06},{"t":533,"v":1.05},{"t":534,"v":1.15},{"t":535,"v":0.95},{"t":536,"v":1.1},{"t":537,"v":1.0},{"t":538,"v":1.2},{"t":539,"v":1.05},{"t":540,"v":0.92},{"t":541,"v":1.12},{"t":542,"v":1.0},{"t":543,"v":1.15},{"t":544,"v":1.02},{"t":545,"v":1.22},{"t":546,"v":1.05},{"t":547,"v":0.95},{"t":548,"v":1.1},{"t":549,"v":1.0},{"t":550,"v":1.18},{"t":551,"v":0.9},{"t":552,"v":1.05},{"t":553,"v":1.2},{"t":554,"v":1.0},{"t":555,"v":1.1},{"t":557,"v":1.15},{"t":558,"v":1.3},{"t":559,"v":1.2},{"t":560,"v":1.35},{"t":561,"v":1.25},{"t":562,"v":1.4},{"t":563,"v":1.28},{"t":564,"v":1.38},{"t":565,"v":1.2},{"t":566,"v":1.32},{"t":567,"v":1.15},{"t":568,"v":1.28},{"t":569,"v":1.35},{"t":570,"v":1.18},{"t":571,"v":1.25},{"t":572,"v":1.1},{"t":573,"v":1.3},{"t":574,"v":1.2},{"t":575,"v":1.05},{"t":576,"v":1.25},{"t":577,"v":1.15},{"t":578,"v":1.32},{"t":579,"v":1.1},{"t":584,"v":1.05},{"t":585,"v":1.15},{"t":586,"v":1.08},{"t":587,"v":1.2},{"t":588,"v":1.1},{"t":589,"v":1.02},{"t":590,"v":1.15},{"t":591,"v":1.05},{"t":592,"v":1.38},{"t":593,"v":1.12},{"t":594,"v":1.2},{"t":595,"v":1.05},{"t":596,"v":1.15},{"t":597,"v":1.1},{"t":598,"v":1.22},{"t":599,"v":1.05},{"t":600,"v":1.12},{"t":601,"v":1.2},{"t":602,"v":1.08},{"t":603,"v":1.15},{"t":604,"v":1.05},{"t":605,"v":1.2},{"t":606,"v":1.1},{"t":613,"v":1.15},{"t":614,"v":1.05},{"t":615,"v":1.22},{"t":617,"v":1.1},{"t":618,"v":1.28},{"t":619,"v":1.15},{"t":620,"v":1.05},{"t":621,"v":1.2},{"t":622,"v":1.32},{"t":623,"v":1.1},{"t":624,"v":1.25},{"t":625,"v":1.15},{"t":626,"v":1.05},{"t":627,"v":1.2},{"t":628,"v":1.28},{"t":629,"v":1.12},{"t":630,"v":1.22},{"t":635,"v":1.05},{"t":636,"v":1.15},{"t":637,"v":0.93},{"t":638,"v":1.0},{"t":639,"v":1.1},{"t":640,"v":0.97},{"t":641,"v":1.2},{"t":642,"v":1.05},{"t":643,"v":1.28},{"t":644,"v":1.1},{"t":645,"v":1.15},{"t":646,"v":1.0},{"t":647,"v":1.08},{"t":648,"v":1.2},{"t":649,"v":1.05},{"t":650,"v":1.12},{"t":659,"v":1.1},{"t":660,"v":1.2},{"t":661,"v":1.05},{"t":662,"v":1.24},{"t":663,"v":1.12},{"t":668,"v":1.2},{"t":669,"v":1.35},{"t":670,"v":1.15},{"t":671,"v":1.3},{"t":672,"v":1.22},{"t":673,"v":1.4},{"t":674,"v":1.25},{"t":675,"v":1.18},{"t":676,"v":1.32},{"t":677,"v":1.2},{"t":678,"v":1.35},{"t":679,"v":1.15},{"t":680,"v":1.28},{"t":681,"v":1.2},{"t":682,"v":1.3},{"t":683,"v":1.12},{"t":684,"v":1.25},{"t":685,"v":1.18},{"t":686,"v":1.3},{"t":687,"v":1.15},{"t":688,"v":1.22},{"t":689,"v":1.1},{"t":690,"v":1.25},{"t":691,"v":1.12},{"t":692,"v":1.2},{"t":693,"v":1.05},{"t":694,"v":1.18},{"t":695,"v":1.08},{"t":696,"v":1.15},{"t":697,"v":1.02},{"t":698,"v":1.12},{"t":699,"v":1.05},{"t":700,"v":1.1},{"t":701,"v":1.0},{"t":702,"v":1.08},{"t":703,"v":1.02},{"t":704,"v":1.1},{"t":705,"v":1.05},{"t":708,"v":1.2},{"t":709,"v":1.3},{"t":710,"v":1.18},{"t":711,"v":1.25},{"t":712,"v":1.15},{"t":713,"v":1.28},{"t":714,"v":1.2},{"t":715,"v":1.32},{"t":716,"v":1.25},{"t":717,"v":1.38},{"t":718,"v":1.3},{"t":719,"v":1.42},{"t":720,"v":1.35},{"t":721,"v":1.45},{"t":722,"v":1.4},{"t":722.5,"v":1.52}],
"mid":[{"t":119,"v":0.15},{"t":121,"v":0.1},{"t":123,"v":0.18},{"t":125,"v":0.05},{"t":127,"v":0.12},{"t":129,"v":0.02},{"t":131,"v":0.15},{"t":133,"v":0.08},{"t":135,"v":0.2},{"t":137,"v":0.1},{"t":138,"v":-0.05},{"t":140,"v":0.15},{"t":142,"v":0.2},{"t":144,"v":0.1},{"t":146,"v":0.18},{"t":148,"v":0.08},{"t":150,"v":0.15},{"t":152,"v":0.05},{"t":154,"v":0.12},{"t":156,"v":0.07},{"t":160,"v":0.2},{"t":162,"v":0.25},{"t":164,"v":0.1},{"t":165,"v":0.18},{"t":167,"v":0.0},{"t":169,"v":0.12},{"t":171,"v":0.02},{"t":172.5,"v":0.1},{"t":177,"v":0.1},{"t":179,"v":0.05},{"t":181,"v":0.14},{"t":183,"v":0.0},{"t":185,"v":0.12},{"t":187,"v":0.05},{"t":189,"v":0.15},{"t":191,"v":0.08},{"t":193,"v":0.18},{"t":195,"v":0.1},{"t":197,"v":0.2},{"t":199,"v":0.12},{"t":201,"v":0.22},{"t":203,"v":0.15},{"t":205,"v":0.2},{"t":207,"v":0.1},{"t":209,"v":0.22},{"t":211,"v":0.15},{"t":213,"v":0.25},{"t":215,"v":0.18},{"t":217,"v":0.28},{"t":219,"v":0.2},{"t":221,"v":0.3},{"t":227,"v":0.15},{"t":229,"v":0.22},{"t":231,"v":0.1},{"t":233,"v":0.18},{"t":234,"v":0.12},{"t":241,"v":0.05},{"t":242,"v":0.15},{"t":243,"v":-0.1},{"t":244,"v":0.25},{"t":245,"v":0.12},{"t":247,"v":0.3},{"t":249,"v":0.22},{"t":251,"v":0.35},{"t":253,"v":0.18},{"t":255,"v":0.28},{"t":257,"v":0.15},{"t":259,"v":0.32},{"t":261,"v":0.4},{"t":268,"v":0.35},{"t":269,"v":0.25},{"t":270,"v":0.1},{"t":271,"v":-0.05},{"t":272,"v":0.15},{"t":274,"v":0.08},{"t":276,"v":0.2},{"t":278,"v":0.12},{"t":280,"v":0.05},{"t":282,"v":0.15},{"t":284,"v":0.1},{"t":285,"v":0.22},{"t":286,"v":0.3},{"t":290,"v":0.25},{"t":292,"v":0.3},{"t":294,"v":0.2},{"t":296,"v":0.28},{"t":298,"v":0.18},{"t":300,"v":0.25},{"t":302,"v":0.15},{"t":304,"v":0.3},{"t":306,"v":0.22},{"t":308,"v":0.18},{"t":309,"v":0.3},{"t":310,"v":0.35},{"t":311,"v":0.25},{"t":313,"v":0.1},{"t":315,"v":0.05},{"t":317,"v":0.15},{"t":318,"v":-0.05},{"t":320,"v":0.1},{"t":322,"v":0.15},{"t":324,"v":0.05},{"t":326,"v":0.12},{"t":328,"v":0.18},{"t":330,"v":0.08},{"t":332,"v":0.15},{"t":334,"v":0.1},{"t":336,"v":0.18},{"t":338,"v":0.08},{"t":340,"v":0.15},{"t":341,"v":0.05},{"t":343,"v":0.18},{"t":345,"v":0.12},{"t":347,"v":0.2},{"t":349,"v":0.15},{"t":352,"v":0.15},{"t":353,"v":0.05},{"t":355,"v":0.2},{"t":357,"v":0.1},{"t":359,"v":0.18},{"t":361,"v":0.12},{"t":363,"v":0.22},{"t":365,"v":0.15},{"t":367,"v":0.25},{"t":369,"v":0.18},{"t":371,"v":0.28},{"t":373,"v":0.2},{"t":375,"v":0.3},{"t":377,"v":0.25},{"t":379,"v":0.35},{"t":383,"v":0.4},{"t":385,"v":0.3},{"t":387,"v":0.35},{"t":389,"v":0.25},{"t":391,"v":0.38},{"t":393,"v":0.2},{"t":395,"v":0.3},{"t":397,"v":0.15},{"t":399,"v":0.22},{"t":400,"v":0.1},{"t":405,"v":0.2},{"t":406.5,"v":0.1},{"t":408,"v":0.25},{"t":410,"v":0.15},{"t":411.5,"v":0.07},{"t":419,"v":0.3},{"t":420.5,"v":0.4},{"t":422,"v":0.25},{"t":423.5,"v":0.35},{"t":425,"v":0.2},{"t":426.5,"v":0.38},{"t":428,"v":0.15},{"t":429.5,"v":0.3},{"t":431,"v":0.1},{"t":432.5,"v":0.32},{"t":434,"v":0.2},{"t":435.5,"v":0.35},{"t":437,"v":0.15},{"t":438.5,"v":0.3},{"t":440,"v":0.4},{"t":442,"v":0.3},{"t":444,"v":0.2},{"t":446,"v":0.35},{"t":448,"v":0.15},{"t":450,"v":0.25},{"t":451,"v":0.1},{"t":455,"v":0.1},{"t":457,"v":0.2},{"t":459,"v":0.05},{"t":461,"v":0.25},{"t":463,"v":0.15},{"t":465,"v":0.3},{"t":467,"v":0.18},{"t":469,"v":0.4},{"t":471,"v":0.25},{"t":473,"v":0.35},{"t":475,"v":0.1},{"t":477,"v":0.3},{"t":481,"v":0.4},{"t":483,"v":0.3},{"t":485,"v":0.5},{"t":487,"v":0.35},{"t":489,"v":0.45},{"t":491,"v":0.3},{"t":493,"v":0.4},{"t":495,"v":0.25},{"t":497,"v":0.38},{"t":499,"v":0.2},{"t":501,"v":0.35},{"t":503,"v":0.1},{"t":507,"v":0.3},{"t":509,"v":0.2},{"t":511,"v":0.35},{"t":513,"v":0.25},{"t":515,"v":0.3},{"t":517,"v":0.2},{"t":519,"v":0.28},{"t":521,"v":0.15},{"t":523,"v":0.25},{"t":525,"v":0.18},{"t":527,"v":0.3},{"t":529,"v":0.15},{"t":531,"v":0.25},{"t":533,"v":0.3},{"t":535,"v":0.2},{"t":537,"v":0.35},{"t":539,"v":0.25},{"t":541,"v":0.3},{"t":543,"v":0.2},{"t":545,"v":0.32},{"t":547,"v":0.25},{"t":549,"v":0.3},{"t":551,"v":0.2},{"t":553,"v":0.25},{"t":555,"v":0.15},{"t":557,"v":0.35},{"t":559,"v":0.45},{"t":561,"v":0.3},{"t":563,"v":0.4},{"t":565,"v":0.2},{"t":567,"v":0.3},{"t":569,"v":0.15},{"t":571,"v":0.28},{"t":573,"v":0.2},{"t":575,"v":0.25},{"t":577,"v":0.1},{"t":578,"v":0.2},{"t":583,"v":0.25},{"t":585,"v":0.2},{"t":587,"v":0.3},{"t":589,"v":0.15},{"t":591,"v":0.25},{"t":593,"v":0.1},{"t":595,"v":0.2},{"t":597,"v":0.15},{"t":599,"v":0.25},{"t":601,"v":0.18},{"t":603,"v":0.22},{"t":605,"v":0.15},{"t":607,"v":0.2},{"t":613,"v":0.3},{"t":614,"v":0.4},{"t":616,"v":0.25},{"t":617,"v":0.15},{"t":619,"v":0.3},{"t":621,"v":0.2},{"t":622,"v":0.05},{"t":624,"v":0.25},{"t":626,"v":0.1},{"t":628,"v":0.2},{"t":630,"v":0.05},{"t":635,"v":0.2},{"t":637,"v":0.3},{"t":639,"v":0.15},{"t":641,"v":0.35},{"t":643,"v":0.25},{"t":644,"v":0.1},{"t":649.7,"v":0.22},{"t":659.5,"v":0.45},{"t":660.5,"v":0.3},{"t":661.5,"v":0.2},{"t":662.5,"v":0.35},{"t":663.5,"v":0.05},{"t":668,"v":0.35},{"t":670,"v":0.4},{"t":672,"v":0.3},{"t":674,"v":0.45},{"t":676,"v":0.35},{"t":679,"v":0.5},{"t":681,"v":0.4},{"t":683,"v":0.3},{"t":685,"v":0.45},{"t":687,"v":0.35},{"t":689,"v":0.42},{"t":691,"v":0.3},{"t":693,"v":0.38},{"t":695,"v":0.15},{"t":697,"v":0.35},{"t":699,"v":0.28},{"t":701,"v":0.32},{"t":703,"v":0.25},{"t":709,"v":0.35},{"t":711,"v":0.4},{"t":713,"v":0.3},{"t":715,"v":0.38},{"t":717,"v":0.25},{"t":719,"v":0.3},{"t":720,"v":0.15},{"t":721,"v":0.2},{"t":722,"v":-0.05}],
"midx":[{"t":266,"v":0.52},{"t":305,"v":0.52},{"t":306.5,"v":0.55},{"t":308,"v":0.5},{"t":309.5,"v":0.54},{"t":381.2,"v":0.52},{"t":677.5,"v":0.55},{"t":678.4,"v":0.6},{"t":679,"v":0.52}],
"bot":[{"t":119.5,"v":0.68},{"t":120.5,"v":0.6},{"t":121.5,"v":0.72},{"t":122.5,"v":0.55},{"t":123.5,"v":0.75},{"t":124.5,"v":0.5},{"t":125.5,"v":0.62},{"t":126.5,"v":0.48},{"t":127.5,"v":0.58},{"t":128.5,"v":0.7},{"t":129.5,"v":0.52},{"t":130.5,"v":0.64},{"t":131.5,"v":0.45},{"t":132.5,"v":0.55},{"t":133.5,"v":0.42},{"t":134.5,"v":0.38},{"t":135.5,"v":0.6},{"t":136.5,"v":0.5},{"t":137.5,"v":0.65},{"t":138.5,"v":0.55},{"t":139.5,"v":0.62},{"t":140.5,"v":0.68},{"t":142,"v":0.58},{"t":143.5,"v":0.7},{"t":145,"v":0.6},{"t":146.5,"v":0.66},{"t":148,"v":0.52},{"t":149.5,"v":0.62},{"t":151,"v":0.58},{"t":152.5,"v":0.65},{"t":154,"v":0.55},{"t":155.5,"v":0.58},{"t":160,"v":0.58},{"t":161.5,"v":0.48},{"t":163,"v":0.42},{"t":164.5,"v":0.5},{"t":166,"v":0.42},{"t":168,"v":0.55},{"t":169.5,"v":0.6},{"t":171,"v":0.5},{"t":172.5,"v":0.55},{"t":178,"v":0.78},{"t":179,"v":0.7},{"t":180.5,"v":0.65},{"t":182,"v":0.6},{"t":183.5,"v":0.62},{"t":185,"v":0.58},{"t":186.5,"v":0.6},{"t":188,"v":0.55},{"t":189.5,"v":0.58},{"t":191,"v":0.48},{"t":192.5,"v":0.4},{"t":194,"v":0.5},{"t":195.5,"v":0.45},{"t":197,"v":0.4},{"t":198.5,"v":0.55},{"t":200,"v":0.48},{"t":201.5,"v":0.52},{"t":203,"v":0.45},{"t":204.5,"v":0.5},{"t":206,"v":0.55},{"t":207.5,"v":0.48},{"t":209,"v":0.52},{"t":210.5,"v":0.45},{"t":212,"v":0.42},{"t":213.5,"v":0.48},{"t":215,"v":0.4},{"t":216.5,"v":0.44},{"t":218,"v":0.38},{"t":219.5,"v":0.42},{"t":221,"v":0.48},{"t":222,"v":0.38},{"t":226,"v":0.45},{"t":227.5,"v":0.4},{"t":229,"v":0.38},{"t":230.5,"v":0.35},{"t":232,"v":0.32},{"t":233.5,"v":0.34},{"t":242,"v":0.55},{"t":243,"v":0.45},{"t":244,"v":0.5},{"t":245,"v":0.4},{"t":246,"v":0.35},{"t":247,"v":0.52},{"t":249,"v":0.45},{"t":250,"v":0.3},{"t":251,"v":0.42},{"t":252,"v":0.58},{"t":253,"v":0.62},{"t":255,"v":0.55},{"t":257,"v":0.6},{"t":258,"v":0.5},{"t":259,"v":0.45},{"t":260.5,"v":0.42},{"t":261.5,"v":0.4},{"t":268,"v":0.5},{"t":269.5,"v":0.55},{"t":271,"v":0.52},{"t":272.5,"v":0.58},{"t":274,"v":0.6},{"t":275.5,"v":0.62},{"t":277,"v":0.65},{"t":278.5,"v":0.7},{"t":280,"v":0.66},{"t":281.5,"v":0.68},{"t":283,"v":0.64},{"t":284.5,"v":0.65},{"t":286,"v":0.6},{"t":291,"v":0.5},{"t":292,"v":0.58},{"t":293.5,"v":0.55},{"t":295,"v":0.52},{"t":296.5,"v":0.5},{"t":298,"v":0.48},{"t":299.5,"v":0.52},{"t":301,"v":0.45},{"t":302.5,"v":0.42},{"t":304,"v":0.5},{"t":305.5,"v":0.38},{"t":307,"v":0.32},{"t":308.5,"v":0.35},{"t":310,"v":0.45},{"t":311,"v":0.32},{"t":314,"v":0.55},{"t":315.5,"v":0.48},{"t":317,"v":0.6},{"t":318.5,"v":0.62},{"t":320,"v":0.58},{"t":321.5,"v":0.65},{"t":323,"v":0.7},{"t":324.5,"v":0.6},{"t":326,"v":0.65},{"t":327.5,"v":0.62},{"t":329,"v":0.68},{"t":330.5,"v":0.72},{"t":331.5,"v":0.75},{"t":333,"v":0.82},{"t":334.5,"v":0.88},{"t":336,"v":0.85},{"t":337.5,"v":0.78},{"t":339,"v":0.72},{"t":340.5,"v":0.68},{"t":342,"v":0.6},{"t":343.5,"v":0.58},{"t":345,"v":0.55},{"t":346.5,"v":0.6},{"t":348,"v":0.58},{"t":349.5,"v":0.62},{"t":353,"v":0.85},{"t":354.5,"v":0.7},{"t":356,"v":0.62},{"t":357.5,"v":0.65},{"t":359,"v":0.6},{"t":360.5,"v":0.55},{"t":362,"v":0.58},{"t":363.5,"v":0.55},{"t":365,"v":0.52},{"t":366.5,"v":0.55},{"t":368,"v":0.5},{"t":369.5,"v":0.55},{"t":371,"v":0.52},{"t":372.5,"v":0.58},{"t":374,"v":0.55},{"t":375.5,"v":0.5},{"t":377,"v":0.48},{"t":378.5,"v":0.52},{"t":380,"v":0.46},{"t":381.5,"v":0.5},{"t":383,"v":0.44},{"t":384.5,"v":0.48},{"t":386,"v":0.5},{"t":387.5,"v":0.45},{"t":389,"v":0.42},{"t":390.5,"v":0.48},{"t":392,"v":0.44},{"t":393.5,"v":0.5},{"t":395,"v":0.45},{"t":396.5,"v":0.42},{"t":398,"v":0.48},{"t":399.5,"v":0.52},{"t":405.5,"v":0.42},{"t":407,"v":0.38},{"t":408.5,"v":0.5},{"t":410,"v":0.35},{"t":411.5,"v":0.32},{"t":419.5,"v":0.65},{"t":420.5,"v":0.55},{"t":422,"v":0.6},{"t":423.5,"v":0.52},{"t":425,"v":0.58},{"t":426.5,"v":0.62},{"t":428,"v":0.55},{"t":429.5,"v":0.65},{"t":431,"v":0.6},{"t":432.5,"v":0.68},{"t":434,"v":0.7},{"t":435.5,"v":0.65},{"t":437,"v":0.58},{"t":438,"v":0.5},{"t":444,"v":0.55},{"t":445.5,"v":0.5},{"t":447,"v":0.45},{"t":448.5,"v":0.4},{"t":450,"v":0.35},{"t":455,"v":0.82},{"t":456.5,"v":0.75},{"t":458,"v":0.68},{"t":459.5,"v":0.62},{"t":461,"v":0.55},{"t":462.5,"v":0.5},{"t":464,"v":0.45},{"t":465.5,"v":0.5},{"t":467,"v":0.55},{"t":468.5,"v":0.62},{"t":470,"v":0.45},{"t":471.5,"v":0.4},{"t":473,"v":0.55},{"t":474.5,"v":0.62},{"t":476,"v":0.38},{"t":481,"v":0.52},{"t":482.5,"v":0.6},{"t":484,"v":0.62},{"t":485.5,"v":0.58},{"t":487,"v":0.65},{"t":488.5,"v":0.6},{"t":490,"v":0.62},{"t":491.5,"v":0.58},{"t":493,"v":0.6},{"t":494.5,"v":0.64},{"t":496,"v":0.6},{"t":497.5,"v":0.58},{"t":499,"v":0.62},{"t":500.5,"v":0.55},{"t":502,"v":0.5},{"t":508,"v":0.7},{"t":509.5,"v":0.75},{"t":511,"v":0.8},{"t":512.5,"v":0.85},{"t":514,"v":0.9},{"t":515.5,"v":0.92},{"t":517,"v":0.88},{"t":518.5,"v":0.82},{"t":519.5,"v":0.6},{"t":520.5,"v":0.48},{"t":521.5,"v":0.55},{"t":522.5,"v":0.4},{"t":523.5,"v":0.5},{"t":524.5,"v":0.62},{"t":525.5,"v":0.72},{"t":534,"v":0.78},{"t":535.5,"v":0.72},{"t":537,"v":0.68},{"t":538.5,"v":0.75},{"t":540,"v":0.7},{"t":541.5,"v":0.62},{"t":543,"v":0.66},{"t":544.5,"v":0.58},{"t":546,"v":0.62},{"t":547.5,"v":0.5},{"t":549,"v":0.45},{"t":550.5,"v":0.55},{"t":552,"v":0.4},{"t":553.5,"v":0.48},{"t":555,"v":0.36},{"t":557,"v":0.6},{"t":558.5,"v":0.68},{"t":560,"v":0.72},{"t":561.5,"v":0.65},{"t":563,"v":0.78},{"t":564.5,"v":0.85},{"t":566,"v":0.88},{"t":567.5,"v":0.8},{"t":569,"v":0.75},{"t":570.5,"v":0.7},{"t":572,"v":0.72},{"t":573.5,"v":0.65},{"t":575,"v":0.62},{"t":576.5,"v":0.58},{"t":578,"v":0.45},{"t":583.5,"v":0.7},{"t":585,"v":0.75},{"t":586.5,"v":0.8},{"t":588,"v":0.85},{"t":589.5,"v":0.78},{"t":591,"v":0.72},{"t":592.5,"v":0.6},{"t":594,"v":0.55},{"t":595.5,"v":0.5},{"t":597,"v":0.58},{"t":598.5,"v":0.62},{"t":600,"v":0.68},{"t":601.5,"v":0.75},{"t":603,"v":0.72},{"t":604.5,"v":0.65},{"t":606,"v":0.5},{"t":613,"v":0.68},{"t":614.5,"v":0.62},{"t":616,"v":0.72},{"t":617.5,"v":0.8},{"t":619,"v":0.7},{"t":620.5,"v":0.62},{"t":622,"v":0.58},{"t":623.5,"v":0.62},{"t":625,"v":0.58},{"t":626.5,"v":0.62},{"t":628,"v":0.6},{"t":629.5,"v":0.58},{"t":635,"v":0.65},{"t":636.5,"v":0.58},{"t":638,"v":0.55},{"t":639.5,"v":0.5},{"t":641,"v":0.58},{"t":642.5,"v":0.62},{"t":644,"v":0.55},{"t":649.6,"v":0.73},{"t":659.5,"v":0.48},{"t":660.5,"v":0.44},{"t":661.5,"v":0.5},{"t":662.5,"v":0.55},{"t":663.5,"v":0.6},{"t":669.5,"v":1.08},{"t":670.5,"v":0.98},{"t":671.5,"v":0.9},{"t":672.5,"v":0.82},{"t":673.5,"v":0.75},{"t":674.5,"v":0.68},{"t":676,"v":0.62},{"t":677.5,"v":0.58},{"t":679,"v":0.62},{"t":680.5,"v":0.6},{"t":682,"v":0.65},{"t":683.5,"v":0.7},{"t":685,"v":0.72},{"t":686.5,"v":0.68},{"t":688,"v":0.65},{"t":689.5,"v":0.62},{"t":691,"v":0.6},{"t":692.5,"v":0.58},{"t":694,"v":0.55},{"t":695.5,"v":0.52},{"t":697,"v":0.5},{"t":698.5,"v":0.48},{"t":700,"v":0.52},{"t":701.5,"v":0.48},{"t":703,"v":0.42},{"t":709.5,"v":0.98},{"t":711,"v":0.95},{"t":712.5,"v":0.9},{"t":714,"v":0.82},{"t":715.5,"v":0.75},{"t":717,"v":0.72},{"t":718.5,"v":0.78},{"t":720,"v":0.8},{"t":721.5,"v":0.72},{"t":722,"v":0.82}]
},
"vconcat":[
{
"title":"DIQ - 2025-09-23",
"width":1332,"height":298,
"encoding":{"y":{"field":"v","type":"quantitative","scale":{"domain":[-0.18,3.31],"nice":false,"zero":false},"axis":{"values":[0,0.5,1,1.5,2,2.5,3],"labelExpr":"datum.value+''","title":null}}},
"layer":[
{"data":{"name":"gtop"},"mark":{"type":"rule","color":"#e2e2e2","strokeWidth":1},"encoding":{}},
{"data":{"name":"wfs1"},"mark":{"type":"line","color":"#c8c8c8","strokeWidth":1},"encoding":{"x":{"field":"t","type":"quantitative","scale":{"domain":[86.6,741.6],"nice":false,"zero":false},"axis":{"values":[120,180,240,300,360,420,480,540,600,660,720],"labelExpr":"(datum.value<600?'0':'')+(datum.value/60)+':00'","title":null}}}},
{"data":{"name":"gc1"},"mark":{"type":"point","filled":true,"size":85,"strokeWidth":1,"fillOpacity":0.85,"opacity":1},"encoding":{"x":{"field":"t","type":"quantitative","scale":{"domain":[86.6,741.6],"nice":false,"zero":false}},
"shape":{"datum":"gc1","type":"nominal","scale":{"domain":["gc1","wfs1","dimm","gc2","wfs2"],"range":["M-1,-0.6L-0.6,-1L0,-0.4L0.6,-1L1,-0.6L0.4,0L1,0.6L0.6,1L0,0.4L-0.6,1L-1,0.6L-0.4,0Z","diamond","circle","M-1,-0.14L-0.14,-0.14L-0.14,-1L0.14,-1L0.14,-0.14L1,-0.14L1,0.14L0.14,0.14L0.14,1L-0.14,1L-0.14,0.14L-1,0.14Z","triangle-down"]},"legend":{"title":null}},
"fill":{"datum":"gc1","type":"nominal","scale":{"domain":["gc1","wfs1","dimm","gc2","wfs2"],"range":["#e0a850","#ffb400","#e4e44c","#3a9494","#4a4a5e"]},"legend":{"title":null}},
"stroke":{"datum":"gc1","type":"nominal","scale":{"domain":["gc1","wfs1","dimm","gc2","wfs2"],"range":["#d2b48c","#ff2a00","#0000dd","#2f8a8a","#b0b0b0"]},"legend":{"title":null}}}},
{"data":{"name":"gc2"},"mark":{"type":"point","filled":true,"size":85,"strokeWidth":1,"fillOpacity":0.85,"opacity":1},"encoding":{"x":{"field":"t","type":"quantitative","scale":{"domain":[86.6,741.6],"nice":false,"zero":false}},
"shape":{"datum":"gc2","type":"nominal","scale":{"domain":["gc1","wfs1","dimm","gc2","wfs2"],"range":["M-1,-0.6L-0.6,-1L0,-0.4L0.6,-1L1,-0.6L0.4,0L1,0.6L0.6,1L0,0.4L-0.6,1L-1,0.6L-0.4,0Z","diamond","circle","M-1,-0.14L-0.14,-0.14L-0.14,-1L0.14,-1L0.14,-0.14L1,-0.14L1,0.14L0.14,0.14L0.14,1L-0.14,1L-0.14,0.14L-1,0.14Z","triangle-down"]},"legend":{"title":null}},
"fill":{"datum":"gc2","type":"nominal","scale":{"domain":["gc1","wfs1","dimm","gc2","wfs2"],"range":["#e0a850","#ffb400","#e4e44c","#3a9494","#4a4a5e"]},"legend":{"title":null}},
"stroke":{"datum":"gc2","type":"nominal","scale":{"domain":["gc1","wfs1","dimm","gc2","wfs2"],"range":["#d2b48c","#ff2a00","#0000dd","#2f8a8a","#b0b0b0"]},"legend":{"title":null}}}},
{"data":{"name":"wfs1"},"mark":{"type":"point","filled":true,"size":80,"strokeWidth":1,"fillOpacity":1,"opacity":1},"encoding":{"x":{"field":"t","type":"quantitative","scale":{"domain":[86.6,741.6],"nice":false,"zero":false}},
"shape":{"datum":"wfs1","type":"nominal","scale":{"domain":["gc1","wfs1","dimm","gc2","wfs2"],"range":["M-1,-0.6L-0.6,-1L0,-0.4L0.6,-1L1,-0.6L0.4,0L1,0.6L0.6,1L0,0.4L-0.6,1L-1,0.6L-0.4,0Z","diamond","circle","M-1,-0.14L-0.14,-0.14L-0.14,-1L0.14,-1L0.14,-0.14L1,-0.14L1,0.14L0.14,0.14L0.14,1L-0.14,1L-0.14,0.14L-1,0.14Z","triangle-down"]},"legend":{"title":null}},
"fill":{"datum":"wfs1","type":"nominal","scale":{"domain":["gc1","wfs1","dimm","gc2","wfs2"],"range":["#e0a850","#ffb400","#e4e44c","#3a9494","#4a4a5e"]},"legend":{"title":null}},
"stroke":{"datum":"wfs1","type":"nominal","scale":{"domain":["gc1","wfs1","dimm","gc2","wfs2"],"range":["#d2b48c","#ff2a00","#0000dd","#2f8a8a","#b0b0b0"]},"legend":{"title":null}}}},
{"data":{"name":"dimm"},"mark":{"type":"line","color":"#0000dd","strokeWidth":1.7},"encoding":{"x":{"field":"t","type":"quantitative","scale":{"domain":[86.6,741.6],"nice":false,"zero":false}}}},
{"data":{"name":"dimm"},"mark":{"type":"point","filled":true,"size":45,"strokeWidth":1.6,"fillOpacity":1,"opacity":1},"encoding":{"x":{"field":"t","type":"quantitative","scale":{"domain":[86.6,741.6],"nice":false,"zero":false}},
"shape":{"datum":"dimm","type":"nominal","scale":{"domain":["gc1","wfs1","dimm","gc2","wfs2"],"range":["M-1,-0.6L-0.6,-1L0,-0.4L0.6,-1L1,-0.6L0.4,0L1,0.6L0.6,1L0,0.4L-0.6,1L-1,0.6L-0.4,0Z","diamond","circle","M-1,-0.14L-0.14,-0.14L-0.14,-1L0.14,-1L0.14,-0.14L1,-0.14L1,0.14L0.14,0.14L0.14,1L-0.14,1L-0.14,0.14L-1,0.14Z","triangle-down"]},"legend":{"title":null}},
"fill":{"datum":"dimm","type":"nominal","scale":{"domain":["gc1","wfs1","dimm","gc2","wfs2"],"range":["#e0a850","#ffb400","#e4e44c","#3a9494","#4a4a5e"]},"legend":{"title":null}},
"stroke":{"datum":"dimm","type":"nominal","scale":{"domain":["gc1","wfs1","dimm","gc2","wfs2"],"range":["#d2b48c","#ff2a00","#0000dd","#2f8a8a","#b0b0b0"]},"legend":{"title":null}}}}
]
},
{
"title":"Guider — WFS",
"width":1332,"height":109,
"encoding":{"y":{"field":"v","type":"quantitative","scale":{"domain":[-1.34,2.52],"nice":false,"zero":false},"axis":{"values":[-1,0,1,2],"labelExpr":"datum.value<0?'−'+abs(datum.value):datum.value+''","title":null}}},
"layer":[
{"data":{"name":"gmid"},"mark":{"type":"rule","color":"#ececec","strokeWidth":1},"encoding":{}},
{"data":{"name":"gmidh"},"mark":{"type":"rule","color":"#bdbdbd","strokeWidth":1},"encoding":{}},
{"data":{"name":"mid"},"mark":{"type":"line","color":"#cccccc","strokeWidth":0.8},"encoding":{"x":{"field":"t","type":"quantitative","scale":{"domain":[86.6,741.6],"nice":false,"zero":false},"axis":{"values":[120,180,240,300,360,420,480,540,600,660,720],"labelExpr":"(datum.value<600?'0':'')+(datum.value/60)+':00'","title":null}}}},
{"data":{"name":"mid"},"mark":{"type":"point","filled":true,"size":100,"fill":"#800080","stroke":"#cbb3d5","strokeWidth":2,"opacity":1},"encoding":{"x":{"field":"t","type":"quantitative","scale":{"domain":[86.6,741.6],"nice":false,"zero":false}}}},
{"data":{"name":"midx"},"mark":{"type":"point","filled":true,"shape":"M-1,-0.6L-0.6,-1L0,-0.4L0.6,-1L1,-0.6L0.4,0L1,0.6L0.6,1L0,0.4L-0.6,1L-1,0.6L-0.4,0Z","size":90,"fill":"#ff0000","strokeWidth":0,"opacity":1},"encoding":{"x":{"field":"t","type":"quantitative","scale":{"domain":[86.6,741.6],"nice":false,"zero":false}}}}
]
},
{
"title":"BLIQ+HO+LO — BLIQ+HO",
"width":1332,"height":109,
"encoding":{"y":{"field":"v","type":"quantitative","scale":{"domain":[-0.19,1.95],"nice":false,"zero":false},"axis":{"values":[0,0.5,1,1.5],"labelExpr":"datum.value==0?'0':format(datum.value,'.1f')","title":null}}},
"layer":[
{"data":{"name":"band"},"mark":{"type":"rect","color":"#ffcccc","opacity":0.3},"encoding":{"x":{"field":"t1","type":"quantitative","scale":{"domain":[86.6,741.6],"nice":false,"zero":false},"axis":{"values":[120,180,240,300,360,420,480,540,600,660,720],"labelExpr":"(datum.value<600?'0':'')+(datum.value/60)+':00'","title":null}},"x2":{"field":"t2"},"y2":{"field":"v2"}}},
{"data":{"name":"gbot"},"mark":{"type":"rule","color":"#e6e6e6","strokeWidth":1},"encoding":{}},
{"data":{"name":"thr"},"mark":{"type":"rule","color":"#cc2b2b","strokeDash":[4,3],"strokeWidth":1.2},"encoding":{"x":{"field":"t1","type":"quantitative","scale":{"domain":[86.6,741.6],"nice":false,"zero":false}},"x2":{"field":"t2"}}},
{"data":{"name":"bot"},"mark":{"type":"point","filled":true,"size":100,"fill":"#000080","stroke":"#b6bad0","strokeWidth":1.8,"opacity":1},"encoding":{"x":{"field":"t","type":"quantitative","scale":{"domain":[86.6,741.6],"nice":false,"zero":false}}}}
]
}
]
}
